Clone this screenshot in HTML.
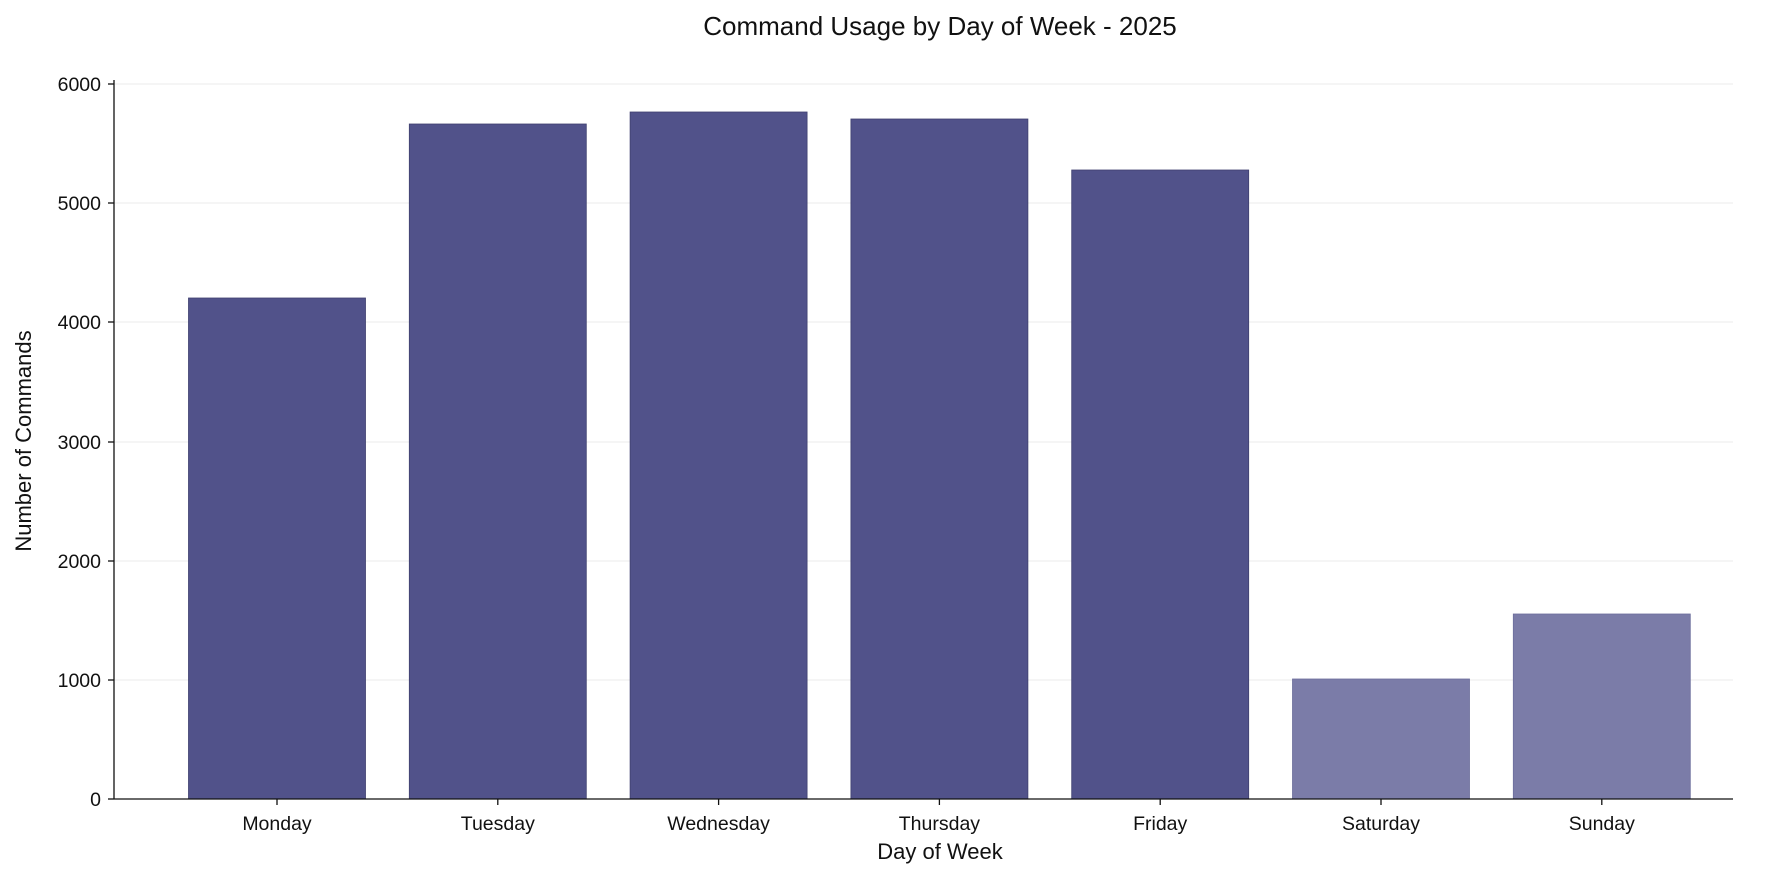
<!DOCTYPE html>
<html><head><meta charset="utf-8"><style>
html,body{margin:0;padding:0;background:#fff;}
svg{display:block;font-family:"Liberation Sans","DejaVu Sans",sans-serif;}
</style></head><body>
<svg width="1780" height="881" viewBox="0 0 1780 881" xmlns="http://www.w3.org/2000/svg">
<rect width="1780" height="881" fill="#fff"/>
<text x="940" y="35" font-size="26" text-anchor="middle" fill="#111">Command Usage by Day of Week - 2025</text>
<g stroke="#ebebeb" stroke-width="1">
<line x1="114" x2="1733" y1="84" y2="84"/>
<line x1="114" x2="1733" y1="203" y2="203"/>
<line x1="114" x2="1733" y1="322" y2="322"/>
<line x1="114" x2="1733" y1="442" y2="442"/>
<line x1="114" x2="1733" y1="561" y2="561"/>
<line x1="114" x2="1733" y1="680" y2="680"/>
</g>
<g stroke="#3f406f" stroke-width="0.8">
<rect x="188.5" y="298" width="177" height="501" fill="#51528a"/>
<rect x="409.3" y="124" width="177" height="675" fill="#51528a"/>
<rect x="630.1" y="112" width="177" height="687" fill="#51528a"/>
<rect x="850.9" y="119" width="177" height="680" fill="#51528a"/>
<rect x="1071.7" y="170" width="177" height="629" fill="#51528a"/>
<rect x="1292.5" y="679" width="177" height="120" fill="#7b7ca8" stroke="#6d6e9c"/>
<rect x="1513.3" y="614" width="177" height="185" fill="#7b7ca8" stroke="#6d6e9c"/>
</g>
<g stroke="#111" stroke-width="1.3">
<line x1="114" y1="80" x2="114" y2="799"/>
<line x1="114" y1="799" x2="1733" y2="799"/>
<line x1="108" x2="114" y1="84" y2="84"/>
<line x1="108" x2="114" y1="203" y2="203"/>
<line x1="108" x2="114" y1="322" y2="322"/>
<line x1="108" x2="114" y1="442" y2="442"/>
<line x1="108" x2="114" y1="561" y2="561"/>
<line x1="108" x2="114" y1="680" y2="680"/>
<line x1="108" x2="114" y1="799" y2="799"/>
<line x1="277" x2="277" y1="799" y2="805"/>
<line x1="497.8" x2="497.8" y1="799" y2="805"/>
<line x1="718.6" x2="718.6" y1="799" y2="805"/>
<line x1="939.4" x2="939.4" y1="799" y2="805"/>
<line x1="1160.2" x2="1160.2" y1="799" y2="805"/>
<line x1="1381" x2="1381" y1="799" y2="805"/>
<line x1="1601.8" x2="1601.8" y1="799" y2="805"/>
</g>
<g font-size="19.5" fill="#111" text-anchor="end">
<text x="101" y="91">6000</text>
<text x="101" y="210">5000</text>
<text x="101" y="329">4000</text>
<text x="101" y="449">3000</text>
<text x="101" y="568">2000</text>
<text x="101" y="687">1000</text>
<text x="101" y="806">0</text>
</g>
<g font-size="19.5" fill="#111" text-anchor="middle">
<text x="277" y="830">Monday</text>
<text x="497.8" y="830">Tuesday</text>
<text x="718.6" y="830">Wednesday</text>
<text x="939.4" y="830">Thursday</text>
<text x="1160.2" y="830">Friday</text>
<text x="1381" y="830">Saturday</text>
<text x="1601.8" y="830">Sunday</text>
</g>
<text x="940" y="859" font-size="22" text-anchor="middle" fill="#111">Day of Week</text>
<text transform="translate(31,441) rotate(-90)" font-size="22" text-anchor="middle" fill="#111">Number of Commands</text>
</svg>
</body></html>
